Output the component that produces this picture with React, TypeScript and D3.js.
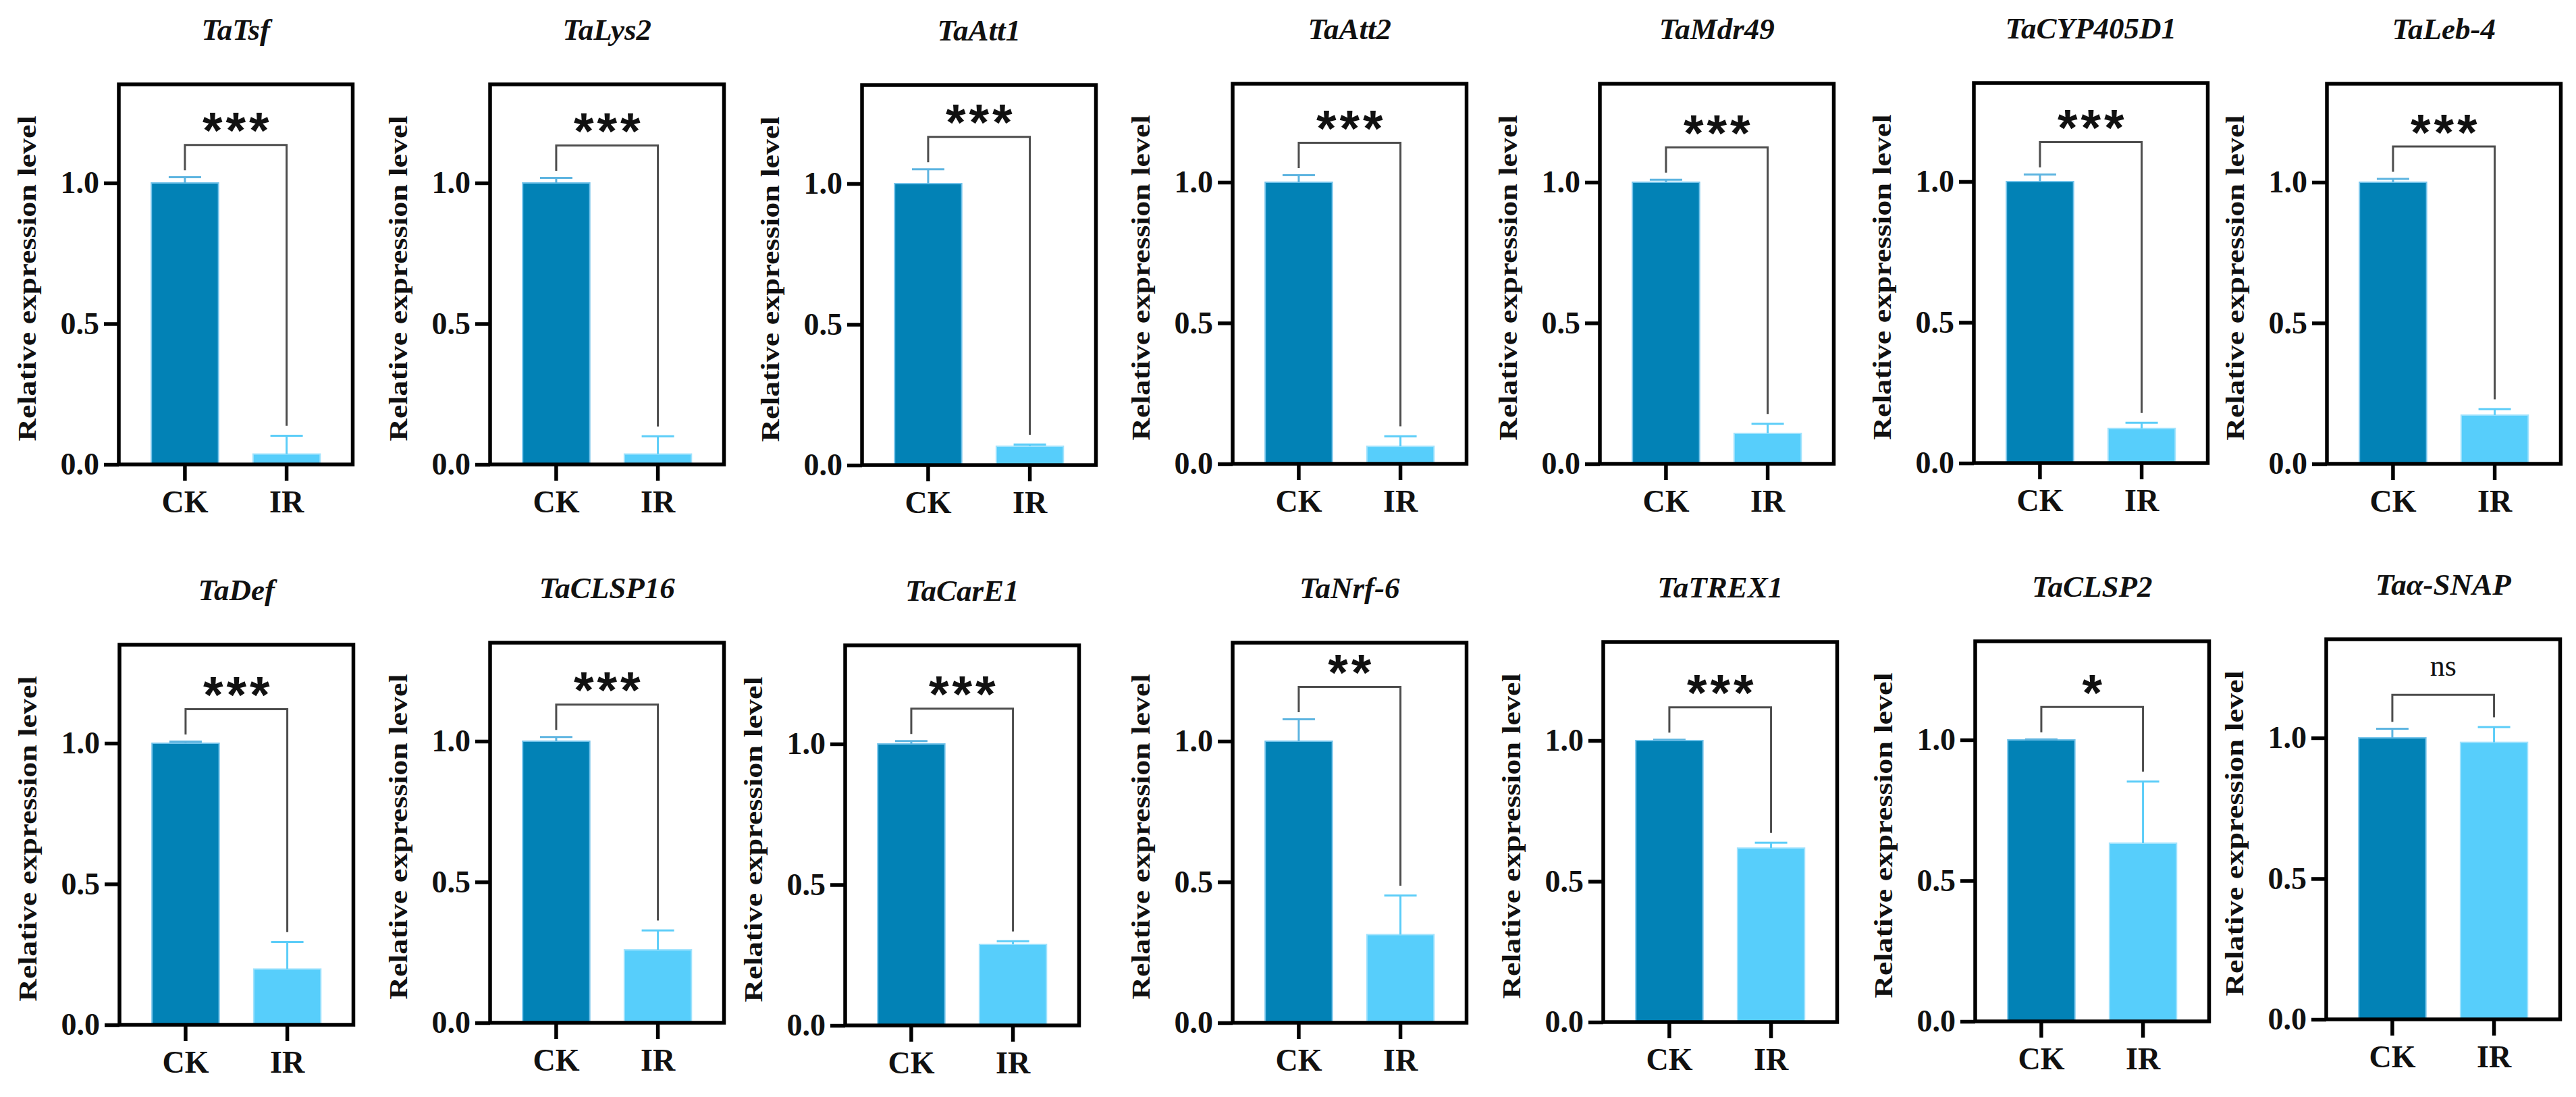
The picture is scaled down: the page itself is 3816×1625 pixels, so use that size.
import { useEffect, useRef } from 'react';
import * as d3 from 'd3';

// Gene panels, top row then bottom row
const genes = [
  'TaTsf', 'TaLys2', 'TaAtt1', 'TaAtt2', 'TaMdr49', 'TaCYP405D1', 'TaLeb-4',
  'TaDef', 'TaCLSP16', 'TaCarE1', 'TaNrf-6', 'TaTREX1', 'TaCLSP2', 'Taα-SNAP',
];
const groups = ['CK', 'IR'];
const ckMean = [1, 1, 1, 1, 1, 1, 1, 1, 1, 1, 1, 1, 1, 1];
const ckSem = [0.02, 0.018, 0.051, 0.025, 0.009, 0.025, 0.012, 0.006, 0.015, 0.01, 0.078, 0.003, 0.002, 0.032];
const irMean = [0.037, 0.037, 0.067, 0.062, 0.108, 0.123, 0.173, 0.198, 0.259, 0.288, 0.313, 0.618, 0.633, 0.984];
const irSem = [0.065, 0.063, 0.006, 0.036, 0.034, 0.02, 0.021, 0.096, 0.069, 0.011, 0.139, 0.019, 0.219, 0.054];
const significance = ['***', '***', '***', '***', '***', '***', '***', '***', '***', '***', '**', '***', '*', 'ns'];
const yTicks = [0, 0.5, 1.0];
const yMax = 1.35;

// Layout (pixels)
const panelLeft = [176, 726, 1277, 1826, 2370, 2924, 3447, 177, 726, 1252, 1826, 2375, 2926, 3446];
const panelTop = [125, 125, 126, 124, 124, 123, 124, 955, 952, 956, 952, 951, 950, 947];
const boxW = 346.5;
const boxH = 563;

const serif = '"Liberation Serif", "Times New Roman", serif';
const fills = ['#0282b6', '#57cefb'];
const edges = ['#74c3ea', '#a2e3fd'];
const errColors = ['#5db4e0', '#5ccdf8'];

export default function App() {
  const svgRef = useRef<SVGSVGElement>(null);

  useEffect(() => {
    if (!svgRef.current) return;
    const svg = d3.select(svgRef.current);
    svg.selectAll('*').remove();

    genes.forEach((gene, i) => {
      const top = panelTop[i];
      const base = top + boxH;

      const x = d3.scaleBand<string>()
        .domain(groups)
        .range([0, boxW])
        .paddingInner(0.34)
        .paddingOuter(0.32);

      const y = d3.scaleLinear()
        .domain([0, yMax])
        .range([base, top]);

      const g = svg.append('g').attr('transform', `translate(${panelLeft[i]},0)`);

      const bars = groups.map((grp, k) => ({
        group: grp,
        mean: k === 0 ? ckMean[i] : irMean[i],
        sem: k === 0 ? ckSem[i] : irSem[i],
        k,
      }));

      // Bars
      g.selectAll('rect.bar')
        .data(bars)
        .enter()
        .append('rect')
        .attr('class', 'bar')
        .attr('x', d => x(d.group)!)
        .attr('width', x.bandwidth())
        .attr('y', d => y(d.mean))
        .attr('height', d => base - y(d.mean))
        .attr('fill', d => fills[d.k])
        .attr('stroke', d => edges[d.k])
        .attr('stroke-width', 2);

      // Error bars (upper only)
      bars.forEach(d => {
        const cx = x(d.group)! + x.bandwidth() / 2;
        const yTop = y(d.mean + d.sem);
        g.append('line')
          .attr('x1', cx).attr('x2', cx)
          .attr('y1', y(d.mean)).attr('y2', yTop)
          .attr('stroke', errColors[d.k])
          .attr('stroke-width', 3);
        g.append('line')
          .attr('x1', cx - 24).attr('x2', cx + 24)
          .attr('y1', yTop).attr('y2', yTop)
          .attr('stroke', errColors[d.k])
          .attr('stroke-width', 3);
      });

      // Significance bracket
      const ckTop = ckMean[i] + ckSem[i];
      const irTop = irMean[i] + irSem[i];
      const bracketY = y(Math.max(ckTop, irTop) + 0.115);
      const cx1 = x('CK')! + x.bandwidth() / 2;
      const cx2 = x('IR')! + x.bandwidth() / 2;
      g.append('path')
        .attr('d', `M${cx1},${y(ckTop + 0.025)}V${bracketY}H${cx2}V${y(irTop + 0.035)}`)
        .attr('fill', 'none')
        .attr('stroke', '#4d4d4d')
        .attr('stroke-width', 3);

      const label = significance[i];
      const mid = (cx1 + cx2) / 2;
      if (label === 'ns') {
        g.append('text')
          .attr('x', mid)
          .attr('y', bracketY - 28)
          .attr('text-anchor', 'middle')
          .attr('font-family', serif)
          .attr('font-size', 44)
          .attr('fill', '#111')
          .text(label);
      } else {
        const fs = 76;
        const ls = 5;
        g.append('text')
          .attr('x', mid + ls / 2)
          .attr('y', bracketY - 25 + 0.39 * fs)
          .attr('text-anchor', 'middle')
          .attr('font-family', '"Liberation Sans", Arial, sans-serif')
          .attr('font-weight', 'bold')
          .attr('font-size', fs)
          .attr('letter-spacing', ls)
          .attr('fill', '#111')
          .text(label);
      }

      // Frame
      g.append('rect')
        .attr('x', 0)
        .attr('y', top)
        .attr('width', boxW)
        .attr('height', boxH)
        .attr('fill', 'none')
        .attr('stroke', '#000')
        .attr('stroke-width', 5.5);

      // Axes
      const yAxis = g.append('g')
        .call(d3.axisLeft(y).tickValues(yTicks).tickSize(22).tickPadding(7).tickFormat(d3.format('.1f')));
      yAxis.select('.domain').remove();
      yAxis.selectAll('line').attr('stroke', '#000').attr('stroke-width', 5.5);
      yAxis.selectAll('text')
        .attr('font-family', serif)
        .attr('font-weight', 'bold')
        .attr('font-size', 46)
        .attr('fill', '#111');

      const xAxis = g.append('g')
        .attr('transform', `translate(0,${base})`)
        .call(d3.axisBottom(x).tickSize(24).tickPadding(14));
      xAxis.select('.domain').remove();
      xAxis.selectAll('line').attr('stroke', '#000').attr('stroke-width', 5.5);
      xAxis.selectAll('text')
        .attr('font-family', serif)
        .attr('font-weight', 'bold')
        .attr('font-size', 46)
        .attr('fill', '#111');

      // Y label
      g.append('text')
        .attr('transform', `translate(-123,${top + boxH / 2 + 6}) rotate(-90)`)
        .attr('text-anchor', 'middle')
        .attr('font-family', serif)
        .attr('font-weight', 'bold')
        .attr('font-size', 37)
        .attr('textLength', 482)
        .attr('lengthAdjust', 'spacingAndGlyphs')
        .attr('fill', '#111')
        .text('Relative expression level');

      // Title
      g.append('text')
        .attr('x', boxW / 2)
        .attr('y', top - 66)
        .attr('text-anchor', 'middle')
        .attr('font-family', serif)
        .attr('font-weight', 'bold')
        .attr('font-style', 'italic')
        .attr('font-size', 45)
        .attr('fill', '#111')
        .text(gene);
    });
  }, []);

  return (
    <svg
      ref={svgRef}
      width={3816}
      height={1625}
      style={{ position: 'absolute', left: 0, top: 0, background: '#fff' }}
    />
  );
}
